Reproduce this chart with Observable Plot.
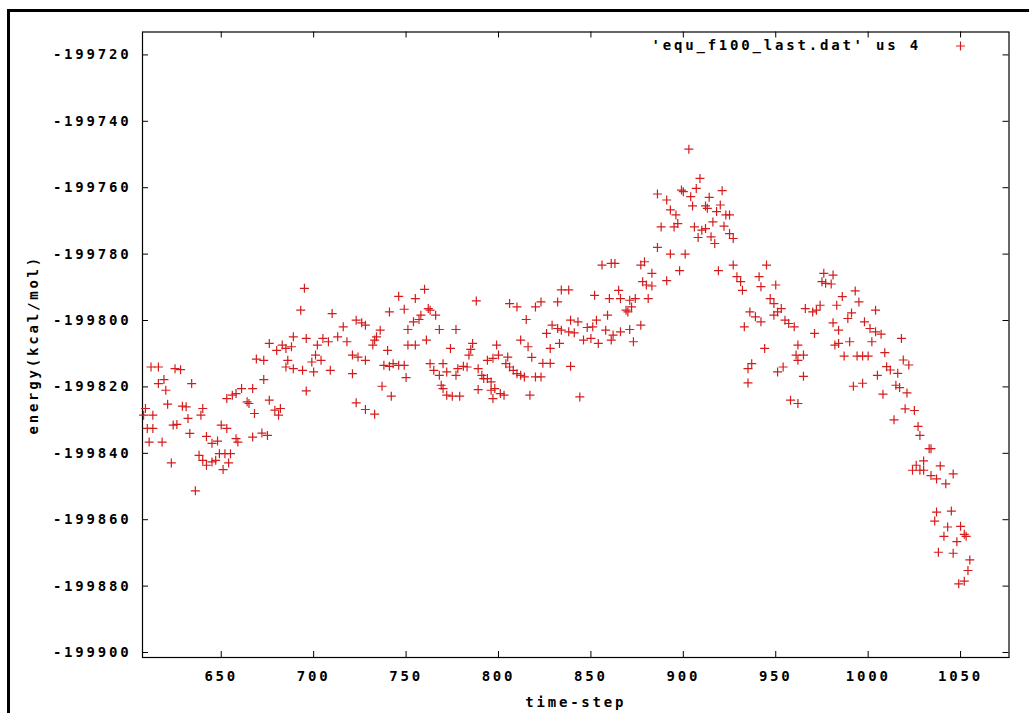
<!DOCTYPE html>
<html>
<head>
<meta charset="utf-8">
<script src="https://cdn.jsdelivr.net/npm/d3@7"></script>
<script src="https://cdn.jsdelivr.net/npm/@observablehq/plot@0.6"></script>
<style>
  html, body { margin: 0; padding: 0; background: #fff; overflow: hidden; }
  #wrap { position: relative; width: 1029px; height: 713px; }
  #border { position: absolute; left: 7px; top: 9px; width: 1100px; height: 800px;
            border-left: 3px solid #000; border-top: 3px solid #000; pointer-events: none; }
</style>
</head>
<body>
<div id="wrap"><div id="chart"></div><div id="border"></div></div>
<script>
// ---- data ----
const xTicks = [650, 700, 750, 800, 850, 900, 950, 1000, 1050];
const yTicks = [-199720, -199740, -199760, -199780, -199800, -199820, -199840, -199860, -199880, -199900];
const xLabel = "time-step";
const yLabel = "energy(kcal/mol)";
const seriesName = "'equ_f100_last.dat' us 4";

const timeSteps = [
  608,609,610,611,612,613,613,616,616,618,
  619,620,621,623,624,625,626,628,629,631,
  632,633,634,636,638,639,640,640,642,642,
  645,645,647,648,649,650,651,652,653,653,
  654,655,656,658,658,659,661,664,665,667,
  667,668,669,672,673,673,675,676,676,679,
  680,681,682,683,685,685,686,688,689,689,
  693,694,695,696,696,699,700,701,702,704,
  705,708,709,710,713,716,718,721,721,723,
  723,724,726,728,728,728,732,733,733,734,
  736,737,738,740,741,741,742,743,746,746,
  749,749,750,751,751,754,755,755,757,758,
  760,761,762,763,763,765,766,768,768,769,
  770,770,772,772,774,775,777,777,778,779,
  781,783,784,785,786,788,789,789,791,792,
  794,794,796,796,797,797,798,799,800,801,
  803,804,805,806,806,808,810,810,812,812,
  814,815,816,817,818,820,820,823,823,824,
  826,828,828,829,832,832,833,834,834,838,
  838,839,839,841,843,844,846,848,850,851,
  852,853,854,856,858,859,860,861,861,862,
  863,865,866,866,869,870,871,871,872,873,
  874,877,877,878,879,880,881,883,883,886,
  886,888,891,891,893,893,895,896,897,898,
  899,900,901,903,904,905,906,907,908,909,
  910,912,912,913,914,915,916,917,918,919,
  920,921,922,923,925,925,927,927,929,931,
  932,933,935,935,936,937,939,941,942,942,
  944,945,947,949,949,950,951,951,953,954,
  955,957,958,960,961,962,962,962,965,965,
  966,970,971,972,974,975,976,977,980,981,
  981,982,983,984,984,986,987,989,990,991,
  992,993,994,995,997,997,998,1000,1001,1002,
  1004,1004,1005,1007,1008,1009,1010,1012,1014,1015,
  1016,1017,1018,1019,1020,1021,1022,1024,1025,1026,
  1027,1028,1028,1030,1030,1033,1034,1034,1036,1037,
  1037,1038,1039,1041,1042,1043,1045,1046,1046,1048,
  1049,1050,1052,1052,1053,1054,1055
];

const energies = [
  -199828.5,-199826.5,-199832.5,-199836.6,-199814,-199828.5,-199832.5,-199814,-199819,-199836.6,
  -199817.8,-199821,-199825.2,-199842.9,-199831.5,-199814.5,-199831.3,-199814.8,-199825.8,-199826,
  -199829.5,-199834,-199819,-199851.3,-199840.6,-199828.5,-199842.1,-199826.5,-199843.6,-199834.9,
  -199842.6,-199837,-199842.1,-199836.3,-199840.1,-199831.5,-199844.9,-199840.1,-199823.5,-199832.5,
  -199842.9,-199840.1,-199822.5,-199822,-199835.6,-199836.6,-199820.5,-199824.5,-199825,-199820.5,
  -199835.1,-199828,-199811.6,-199833.9,-199812,-199817.8,-199834.6,-199806.9,-199824,-199827,
  -199809,-199828.5,-199826.5,-199807.4,-199808.4,-199814,-199812,-199807.9,-199804.9,-199814.5,
  -199796.9,-199815,-199790.3,-199805.4,-199821.2,-199812.5,-199815.5,-199810.4,-199807.4,-199812,
  -199805.4,-199806.4,-199815,-199797.9,-199804.9,-199801.9,-199806.4,-199810.4,-199816,-199799.9,
  -199824.8,-199811,-199800.7,-199801.4,-199812,-199826.8,-199807.4,-199805.9,-199828.2,-199804.9,
  -199802.9,-199819.8,-199813.5,-199809,-199813.8,-199797.4,-199822.8,-199813,-199792.7,-199813.5,
  -199796.6,-199813.5,-199817.2,-199802.7,-199807.4,-199800.4,-199793.4,-199807.4,-199799.7,-199798.4,
  -199790.6,-199805.9,-199796.4,-199796.9,-199813,-199815,-199798.4,-199802.7,-199816.5,-199819.5,
  -199813,-199820.5,-199815.5,-199822.5,-199808.4,-199822.8,-199802.7,-199816.5,-199814.5,-199822.8,
  -199813.8,-199814,-199810.4,-199808.7,-199806.9,-199794.1,-199814.5,-199820.8,-199816.5,-199817.5,
  -199812,-199817.5,-199818.5,-199821,-199823.5,-199811.4,-199820.5,-199807.4,-199810.4,-199822,
  -199822.5,-199813,-199811,-199794.9,-199814,-199815,-199795.9,-199816,-199805.9,-199816.5,
  -199817,-199799.7,-199807.9,-199822.5,-199811.1,-199795.9,-199817,-199794.4,-199817,-199812.9,
  -199803.9,-199808.4,-199812.9,-199801.4,-199794.4,-199802.4,-199806.9,-199790.8,-199802.9,-199790.8,
  -199803.4,-199799.9,-199813.8,-199803.7,-199800.4,-199823,-199805.9,-199802.1,-199805.4,-199801.9,
  -199792.4,-199799.9,-199806.9,-199783.3,-199802.9,-199798.4,-199793.4,-199782.8,-199805.9,-199804.4,
  -199782.8,-199790.9,-199793.4,-199803.4,-199796.9,-199797.4,-199793.9,-199802.7,-199795.9,-199806.4,
  -199793.4,-199783.3,-199801.4,-199788.3,-199782.3,-199789.3,-199793.4,-199785.8,-199789.6,-199778,
  -199761.9,-199771.8,-199788,-199763.7,-199780,-199766.7,-199771.8,-199768.2,-199770.8,-199785,
  -199760.7,-199761.2,-199780,-199748.4,-199762.7,-199765.5,-199771.8,-199760.2,-199775,-199757.2,
  -199772.8,-199765.5,-199772.3,-199766.2,-199762.9,-199774.8,-199770.3,-199776.8,-199767.2,-199785,
  -199765.2,-199760.9,-199771.6,-199768.2,-199768.2,-199773.8,-199775.3,-199783.3,-199786.8,-199788.3,
  -199790.9,-199801.9,-199814.5,-199818.8,-199797.4,-199813,-199798.9,-199786.8,-199789.8,-199800.4,
  -199808.4,-199783.3,-199793.4,-199794.9,-199798.4,-199789.3,-199797.4,-199815.5,-199796.4,-199814,
  -199799.9,-199800.9,-199824,-199801.9,-199810.4,-199807.4,-199825,-199812,-199810.4,-199816.8,
  -199796.4,-199797.4,-199803.9,-199796.9,-199795.4,-199788.3,-199785.8,-199788.8,-199789,-199800.7,
  -199786.3,-199807.4,-199795.4,-199802.9,-199806.9,-199792.8,-199810.7,-199799.4,-199806.4,-199797.7,
  -199819.8,-199791.1,-199810.7,-199794.4,-199810.7,-199818.9,-199800.4,-199810.7,-199802.4,-199806.4,
  -199796.9,-199803.4,-199816.5,-199804.1,-199822.2,-199809.7,-199813.9,-199814.9,-199829.9,-199819.5,
  -199815.9,-199820.2,-199805.4,-199811.9,-199826.6,-199821.8,-199813.4,-199845.1,-199827.1,-199843.6,
  -199831.9,-199834.6,-199845.1,-199842.3,-199845.1,-199838.6,-199838.6,-199846.7,-199860.4,-199857.7,
  -199847.7,-199869.8,-199843.8,-199865,-199849.2,-199862.2,-199857.4,-199846.2,-199870.1,-199866.6,
  -199879.3,-199862,-199864.4,-199878.5,-199865,-199875.3,-199872.1
];

const xDomain = [607.4, 1076.2];
const yDomain = [-199901.5, -199713.1];

// ---- chart ----
const W = 1029, H = 713;
const mL = 142, mR = 20.5, mT = 31.5, mB = 56;
const plotW = W - mL - mR, plotH = H - mT - mB;
const pointColor = "#d41c1c";
const tick = 6;

const data = timeSteps.map((t, i) => ({t, e: energies[i]}));

// thin "+" symbol like gnuplot's point type 1
const plusSymbol = {
  draw(context, size) {
    const r = Math.sqrt(size / Math.PI);
    context.moveTo(-r, 0); context.lineTo(r, 0);
    context.moveTo(0, -r); context.lineTo(0, r);
  }
};

const font = {fontFamily: "'DejaVu Sans Mono', monospace", fontWeight: "bold"};

const chart = Plot.plot({
  width: W, height: H,
  marginLeft: mL, marginRight: mR, marginTop: mT, marginBottom: mB,
  x: {domain: xDomain, label: null, axis: null},
  y: {domain: yDomain, label: null, axis: null},
  style: {fontFamily: "'DejaVu Sans Mono', monospace", fontSize: "14px", fontWeight: "bold",
          letterSpacing: "2.8px", color: "#000", background: "#fff"},
  marks: [
    Plot.frame({stroke: "#000", strokeWidth: 1.2}),
    // inward ticks on all four sides
    Plot.tickX(xTicks, {x: d => d, insetTop: plotH - tick, stroke: "#000"}),
    Plot.tickX(xTicks, {x: d => d, insetBottom: plotH - tick, stroke: "#000"}),
    Plot.tickY(yTicks, {y: d => d, insetRight: plotW - tick, stroke: "#000"}),
    Plot.tickY(yTicks, {y: d => d, insetLeft: plotW - tick, stroke: "#000"}),
    Plot.axisX(xTicks, {anchor: "bottom", tickSize: 0, tickPadding: 14, tickFormat: d => String(d), ...font}),
    Plot.axisY(yTicks, {anchor: "left", tickSize: 0, tickPadding: 11, tickFormat: d => String(d), ...font}),
    Plot.text([xLabel], {frameAnchor: "bottom", lineAnchor: "middle", textAnchor: "middle", dy: 45, ...font, fontSize: 14}),
    Plot.text([yLabel], {frameAnchor: "left", lineAnchor: "middle", textAnchor: "middle", rotate: -90, dx: -109, ...font, fontSize: 14}),
    // key
    Plot.text([seriesName], {frameAnchor: "top-right", lineAnchor: "middle", textAnchor: "end", dx: -88, dy: 14, ...font, fontSize: 14}),
    Plot.dot([seriesName], {frameAnchor: "top-right", dx: -48.5, dy: 14, symbol: plusSymbol, r: 4.5,
                            stroke: pointColor, strokeWidth: 1.2, fill: "none"}),
    // data
    Plot.dot(data, {x: "t", y: "e", symbol: plusSymbol, r: 4.5, stroke: pointColor, strokeWidth: 1.2, fill: "none"})
  ]
});
document.getElementById("chart").appendChild(chart);
</script>
</body>
</html>
